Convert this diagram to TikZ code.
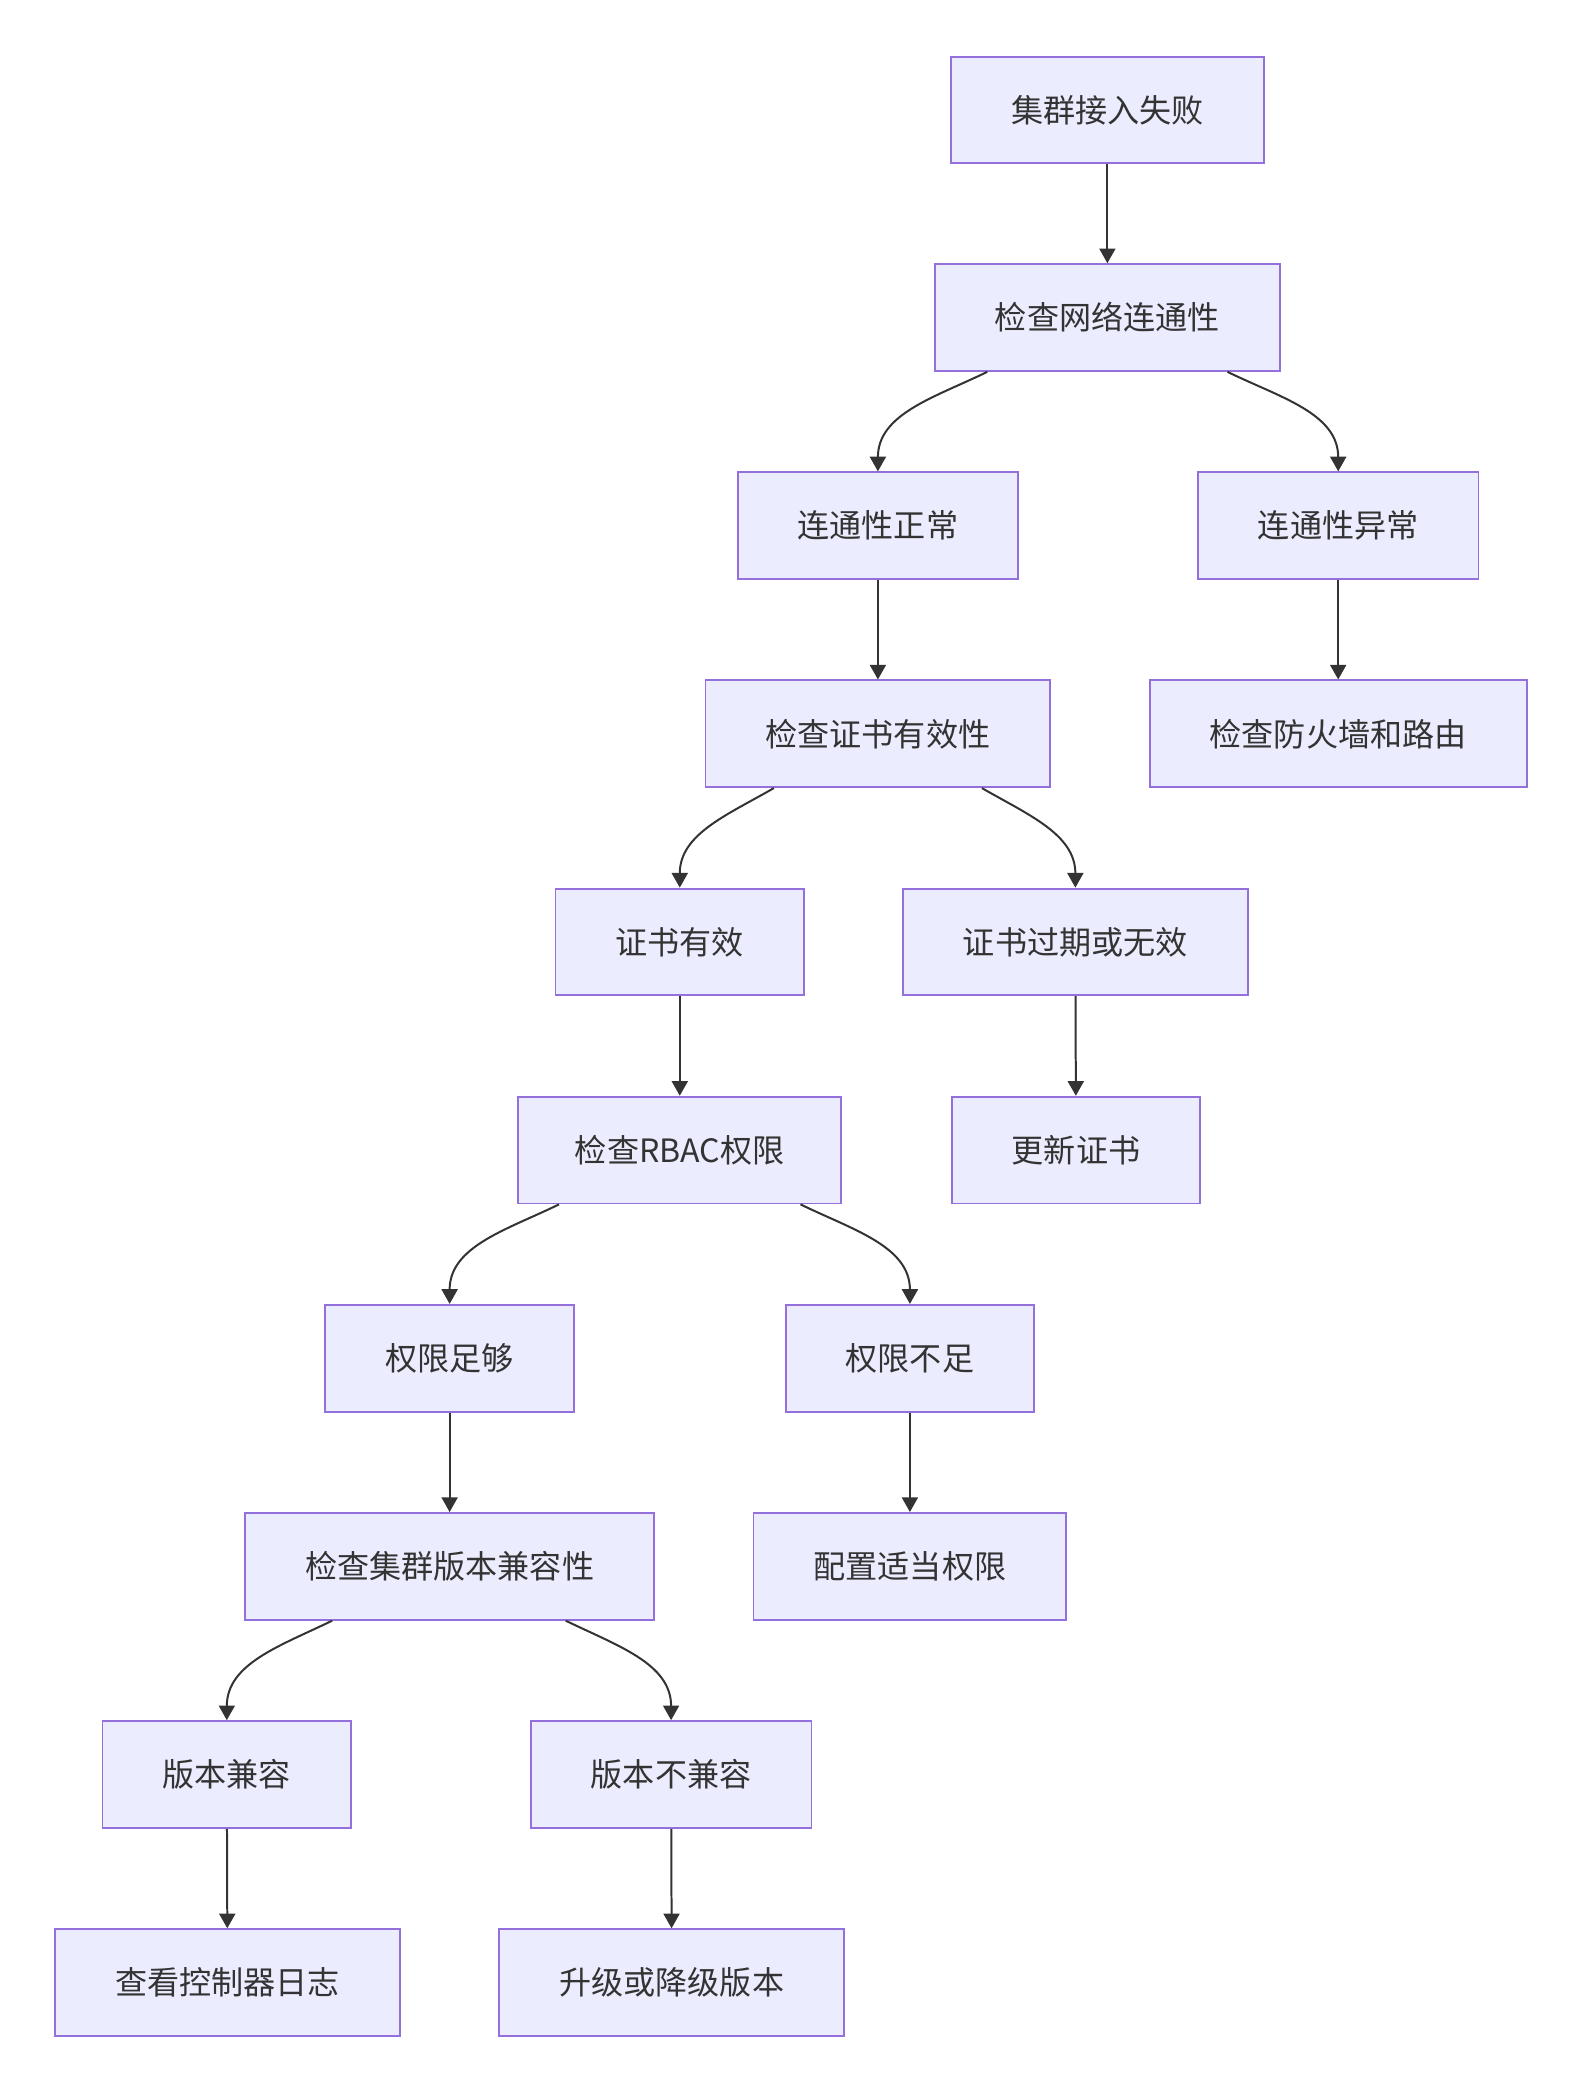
\documentclass[tikz,border=0pt]{standalone}
\usepackage{fontspec}
\setmainfont{Noto Sans CJK SC}
\usetikzlibrary{arrows.meta}
\definecolor{boxfill}{HTML}{ECECFF}
\definecolor{boxline}{HTML}{9370DB}
\definecolor{ink}{HTML}{333333}
\begin{document}
\begin{tikzpicture}[scale=1,
    box/.style={draw=boxline, line width=0.8pt, fill=boxfill, text=ink,
        minimum height=1.6cm, inner xsep=0.9cm,
        font=\fontsize{13.7pt}{16pt}\selectfont},
    line/.style={draw=ink, line width=0.85pt, -{Triangle[width=0.24cm,length=0.22cm]}}]
    \useasboundingbox (0,0) rectangle (23.72,-31.36);
    % checks
    \node[box] (fail) at (16.6, -1.65) {集群接入失败};
    \node[box] (net) at (16.6, -4.76) {检查网络连通性};
    \node[box] (netok) at (13.16, -7.88) {连通性正常};
    \node[box] (netbad) at (20.06, -7.88) {连通性异常};
    \node[box] (cert) at (13.16, -11.0) {检查证书有效性};
    \node[box] (fw) at (20.06, -11.0) {检查防火墙和路由};
    \node[box] (certok) at (10.19, -14.12) {证书有效};
    \node[box] (certbad) at (16.12, -14.12) {证书过期或无效};
    \node[box, inner xsep=0.85cm] (rbac) at (10.19, -17.24) {检查RBAC权限};
    \node[box] (renew) at (16.13, -17.24) {更新证书};
    \node[box] (permok) at (6.74, -20.36) {权限足够};
    \node[box] (permbad) at (13.64, -20.36) {权限不足};
    \node[box] (ver) at (6.74, -23.48) {检查集群版本兼容性};
    \node[box] (grant) at (13.64, -23.48) {配置适当权限};
    \node[box] (verok) at (3.4, -26.6) {版本兼容};
    \node[box] (verbad) at (10.06, -26.6) {版本不兼容};
    \node[box] (logs) at (3.41, -29.72) {查看控制器日志};
    \node[box] (upgrade) at (10.07, -29.72) {升级或降级版本};
    % straight links
    \draw[line] (fail) -- (net);
    \draw[line] (netok) -- (cert);
    \draw[line] (netbad) -- (fw);
    \draw[line] (certok) -- (rbac);
    \draw[line] (certbad) -- (renew);
    \draw[line] (permok) -- (ver);
    \draw[line] (permbad) -- (grant);
    \draw[line] (verok) -- (logs);
    \draw[line] (verbad) -- (upgrade);
    % branches
    \draw[line] ([xshift=-1.8cm]net.south) to[out=-154, in=90] (netok.north);
    \draw[line] ([xshift=1.8cm]net.south) to[out=-26, in=90] (netbad.north);
    \draw[line] ([xshift=-1.56cm]cert.south) to[out=-150, in=90] (certok.north);
    \draw[line] ([xshift=1.56cm]cert.south) to[out=-30, in=90] (certbad.north);
    \draw[line] ([xshift=-1.81cm]rbac.south) to[out=-154, in=90] (permok.north);
    \draw[line] ([xshift=1.81cm]rbac.south) to[out=-26, in=90] (permbad.north);
    \draw[line] ([xshift=-1.76cm]ver.south) to[out=-154, in=90] (verok.north);
    \draw[line] ([xshift=1.74cm]ver.south) to[out=-26, in=90] (verbad.north);
\end{tikzpicture}
\end{document}
